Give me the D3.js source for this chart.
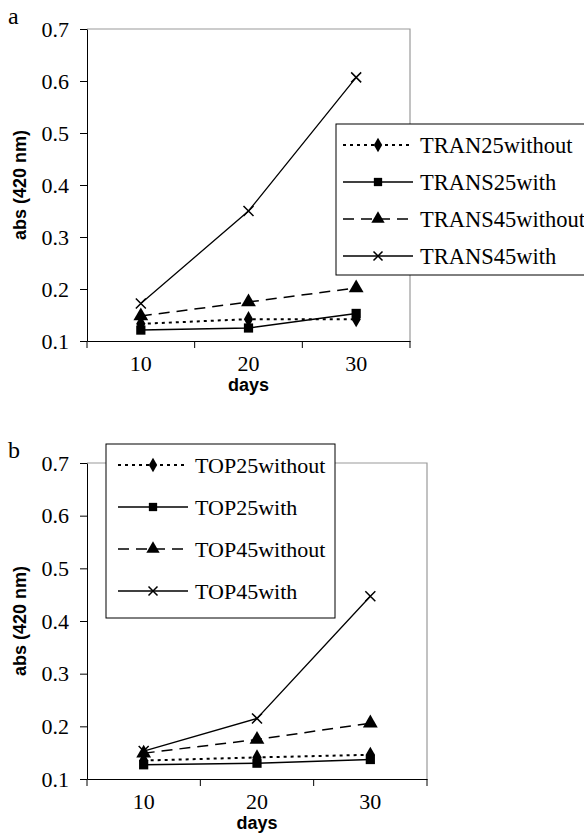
<!doctype html>
<html lang="en">
<head>
  <meta charset="utf-8">
  <title>abs (420 nm) vs days</title>
  <script src="https://d3js.org/d3.v7.min.js"></script>
  <style>
    body { margin: 0; background: #fff; }
    svg { display: block; }
    .tick text { font-family: "Liberation Serif", "Times New Roman", serif; font-size: 22px; fill: #000; }
    .axis-title { font-family: "Liberation Sans", Arial, sans-serif; font-weight: bold; font-size: 18px; }
    .legend text { font-family: "Liberation Serif", "Times New Roman", serif; }
    .panel-label { font-family: "Liberation Serif", "Times New Roman", serif; font-size: 24px; }
  </style>
</head>
<body>
<div id="chart"></div>
<script>
  // data
  const days = [10, 20, 30];
  const yTicks = [0.1, 0.2, 0.3, 0.4, 0.5, 0.6, 0.7];

  const namesA = ['TRAN25without', 'TRANS25with', 'TRANS45without', 'TRANS45with'];
  const tran25without = [0.133, 0.142, 0.142];
  const trans25with = [0.121, 0.125, 0.153];
  const trans45without = [0.148, 0.175, 0.202];
  const trans45with = [0.172, 0.350, 0.607];

  const namesB = ['TOP25without', 'TOP25with', 'TOP45without', 'TOP45with'];
  const top25without = [0.135, 0.141, 0.146];
  const top25with = [0.127, 0.130, 0.137];
  const top45without = [0.149, 0.175, 0.206];
  const top45with = [0.153, 0.215, 0.447];

  // line/marker style per series slot
  const styles = [
    { dash: '3,4', width: 2, marker: 'diamond' },
    { dash: null, width: 1.5, marker: 'square' },
    { dash: '11,7', width: 1.5, marker: 'triangle' },
    { dash: null, width: 1.3, marker: 'cross' }
  ];

  const W = 584, H = 835;
  const svg = d3.select('#chart').append('svg')
    .attr('width', W)
    .attr('height', H);

  function marker(g, type, x, y, s) {
    if (type === 'cross') {
      g.append('path')
        .attr('d', `M${x - s},${y - s}L${x + s},${y + s}M${x - s},${y + s}L${x + s},${y - s}`)
        .attr('stroke', '#000').attr('stroke-width', 1.5).attr('fill', 'none');
      return;
    }
    const sym = { diamond: d3.symbolDiamond, square: d3.symbolSquare, triangle: d3.symbolTriangle }[type];
    const size = { diamond: s * s * 3, square: s * s * 3.4, triangle: s * s * 3.8 }[type];
    g.append('path')
      .attr('d', d3.symbol(sym, size)())
      .attr('transform', `translate(${x},${y})`)
      .attr('fill', '#000');
  }

  function drawPanel(o) {
    const x = d3.scaleBand().domain(days).range([o.left, o.right]).paddingInner(0).paddingOuter(0);
    const y = d3.scaleLinear().domain([0.1, 0.7]).range([o.bottom, o.top]);
    const g = svg.append('g');

    // gray plot frame (top/right)
    g.append('path')
      .attr('d', `M${o.left},${o.top}H${o.right}V${o.bottom}`)
      .attr('fill', 'none').attr('stroke', '#9a9a9a').attr('stroke-width', 1.2);

    // y axis
    g.append('g')
      .attr('transform', `translate(${o.left},0)`)
      .call(d3.axisLeft(y).tickValues(yTicks).tickFormat(d3.format('.1f')).tickSize(7).tickSizeOuter(0).tickPadding(11))
      .call(a => a.selectAll('line,path').attr('stroke', '#000'));

    // x axis: labels at band centres, ticks at band edges
    const xa = g.append('g')
      .attr('transform', `translate(0,${o.bottom})`)
      .call(d3.axisBottom(x).tickSize(0).tickSizeOuter(0).tickPadding(14));
    xa.select('.domain').attr('stroke', '#000');
    const edges = days.map(d => x(d)).concat([x(days[days.length - 1]) + x.bandwidth()]);
    xa.selectAll('.edge').data(edges).join('line')
      .attr('x1', d => d).attr('x2', d => d).attr('y1', 0).attr('y2', 7)
      .attr('stroke', '#000');

    const cx = d => x(d) + x.bandwidth() / 2;

    // series
    o.series.forEach((vals, i) => {
      const st = styles[i];
      const pts = days.map((d, j) => [cx(d), y(vals[j])]);
      g.append('path')
        .attr('d', d3.line()(pts))
        .attr('fill', 'none').attr('stroke', '#000')
        .attr('stroke-width', st.width)
        .attr('stroke-dasharray', st.dash);
      pts.forEach(p => marker(g, st.marker, p[0], p[1], 5));
    });

    // axis titles
    g.append('text').attr('class', 'axis-title')
      .attr('x', (o.left + o.right) / 2).attr('y', o.bottom + 50)
      .attr('text-anchor', 'middle').text('days');
    g.append('text').attr('class', 'axis-title')
      .attr('transform', `translate(26,${(o.top + o.bottom) / 2}) rotate(-90)`)
      .attr('text-anchor', 'middle').text('abs (420 nm)');

    g.append('text').attr('class', 'panel-label')
      .attr('x', 8).attr('y', o.top - 5).text(o.label);

    // legend
    const L = o.legend;
    const lg = g.append('g').attr('class', 'legend');
    lg.append('rect')
      .attr('x', L.x).attr('y', L.y).attr('width', L.w).attr('height', L.h)
      .attr('fill', '#fff').attr('stroke', '#000').attr('stroke-width', 1);
    o.names.forEach((name, i) => {
      const st = styles[i];
      const yy = L.y + L.first + i * L.step;
      lg.append('line')
        .attr('x1', L.x + L.l0).attr('x2', L.x + L.l1).attr('y1', yy).attr('y2', yy)
        .attr('stroke', '#000').attr('stroke-width', st.width)
        .attr('stroke-dasharray', st.dash);
      marker(lg, st.marker, L.x + (L.l0 + L.l1) / 2, yy, 4.5);
      lg.append('text')
        .attr('x', L.x + L.tx).attr('y', yy).attr('dy', '0.35em')
        .style('font-size', L.fs + 'px')
        .text(name);
    });
  }

  drawPanel({
    label: 'a', left: 87, right: 410, top: 29, bottom: 341,
    series: [tran25without, trans25with, trans45without, trans45with],
    names: namesA,
    legend: { x: 336, y: 124, w: 260, h: 151, first: 21, step: 37, l0: 7, l1: 77, tx: 84, fs: 22.5 }
  });

  drawPanel({
    label: 'b', left: 87, right: 427, top: 463, bottom: 779,
    series: [top25without, top25with, top45without, top45with],
    names: namesB,
    legend: { x: 106, y: 444, w: 229, h: 174, first: 21, step: 42, l0: 12, l1: 82, tx: 89, fs: 22 }
  });
</script>
</body>
</html>
